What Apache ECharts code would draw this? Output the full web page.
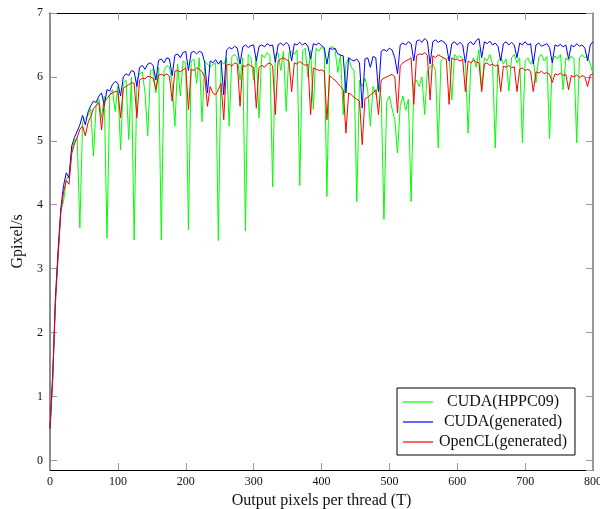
<!DOCTYPE html>
<html>
<head>
<meta charset="utf-8">
<script src="https://cdn.jsdelivr.net/npm/echarts@6/dist/echarts.min.js"></script>
<style>
  html, body { margin: 0; padding: 0; background: #fff; }
  #chart { width: 600px; height: 509px; }
</style>
</head>
<body>
<div id="chart"></div>
<script>
// output pixels per thread (T)
var outputPixels = [
  0, 4, 8, 12, 16, 20, 24, 28, 32, 36,
  40, 44, 48, 52, 56, 60, 64, 68, 72, 76,
  80, 84, 88, 92, 96, 100, 104, 108, 112, 116,
  120, 124, 128, 132, 136, 140, 144, 148, 152, 156,
  160, 164, 168, 172, 176, 180, 184, 188, 192, 196,
  200, 204, 208, 212, 216, 220, 224, 228, 232, 236,
  240, 244, 248, 252, 256, 260, 264, 268, 272, 276,
  280, 284, 288, 292, 296, 300, 304, 308, 312, 316,
  320, 324, 328, 332, 336, 340, 344, 348, 352, 356,
  360, 364, 368, 372, 376, 380, 384, 388, 392, 396,
  400, 404, 408, 412, 416, 420, 424, 428, 432, 436,
  440, 444, 448, 452, 456, 460, 464, 468, 472, 476,
  480, 484, 488, 492, 496, 500, 504, 508, 512, 516,
  520, 524, 528, 532, 536, 540, 544, 548, 552, 556,
  560, 564, 568, 572, 576, 580, 584, 588, 592, 596,
  600, 604, 608, 612, 616, 620, 624, 628, 632, 636,
  640, 644, 648, 652, 656, 660, 664, 668, 672, 676,
  680, 684, 688, 692, 696, 700, 704, 708, 712, 716,
  720, 724, 728, 732, 736, 740, 744, 748, 752, 756,
  760, 764, 768, 772, 776, 780, 784, 788, 792, 796,
  800
]

// Gpixel/s
var cudaHppc09 = [
  0.5, 1.3, 2.5, 3.25, 3.92, 4.05, 4.4, 4.45, 4.85, 5.0,
  5.05, 3.64, 5.3, 5.35, 5.4, 5.5, 4.76, 5.55, 5.65, 5.36,
  5.7, 3.48, 5.72, 5.8, 5.46, 5.85, 4.86, 5.9, 5.95, 5.02,
  6.0, 3.45, 5.95, 6.05, 6.08, 5.75, 5.08, 6.1, 6.12, 5.75,
  6.15, 3.45, 6.1, 6.18, 6.15, 5.9, 5.23, 6.2, 5.7, 6.25,
  6.22, 3.61, 6.25, 6.28, 5.9, 6.3, 5.3, 6.25, 6.2, 6.15,
  6.2, 6.22, 3.44, 6.25, 6.2, 6.3, 5.23, 6.32, 6.35, 6.3,
  5.95, 6.3, 3.59, 6.35, 6.3, 5.95, 6.32, 5.36, 6.35, 6.3,
  6.38, 6.33, 4.28, 6.35, 6.38, 6.1, 6.4, 5.46, 6.38, 6.4,
  6.35, 6.42, 4.3, 6.4, 6.45, 6.0, 6.42, 5.49, 6.45, 6.4,
  6.47, 6.43, 4.13, 6.45, 6.48, 6.42, 6.07, 6.35, 5.41, 6.2,
  6.3, 6.15, 6.1, 4.05, 5.95, 5.85, 5.98, 5.8, 5.23, 5.85,
  5.72, 5.9, 5.68, 3.77, 5.6, 5.7, 5.5, 5.33, 4.81, 5.55,
  5.7, 5.48, 5.65, 4.05, 5.9, 5.95, 5.85, 6.0, 5.41, 6.1,
  6.15, 6.2, 6.1, 4.89, 6.25, 6.3, 6.27, 6.32, 5.64, 6.35,
  6.3, 6.33, 6.28, 6.25, 5.12, 6.2, 6.3, 6.15, 6.43, 5.8,
  6.3, 6.25, 6.35, 6.2, 4.89, 6.25, 6.3, 6.2, 6.28, 5.78,
  6.3, 6.35, 6.22, 6.3, 4.97, 6.25, 6.3, 6.2, 6.27, 5.91,
  6.3, 6.35, 6.25, 6.32, 5.03, 6.25, 6.33, 6.28, 6.35, 5.8,
  6.3, 6.25, 6.33, 6.28, 4.97, 6.3, 6.35, 6.3, 6.33, 6.2,
  6.05
]

var cudaGenerated = [
  0.5, 1.35, 2.55, 3.3, 3.95, 4.3, 4.5, 4.42, 4.92, 5.05,
  5.15, 5.25, 5.4, 5.25, 5.45, 5.55, 5.62, 5.6, 5.7, 5.75,
  5.55, 5.8, 5.78, 5.88, 5.93, 5.9, 5.7, 6.0, 6.05, 6.02,
  6.1, 6.08, 5.85, 6.15, 6.18, 6.12, 6.2, 6.22, 6.18, 5.95,
  6.26, 6.28, 6.22, 6.3, 6.28, 6.02, 6.34, 6.36, 6.3, 6.38,
  6.4, 6.1, 6.38, 6.4, 6.36, 6.4, 6.38, 6.22, 5.75, 6.25,
  6.22, 6.27, 6.2, 6.26, 5.72, 6.42, 6.46, 6.44, 6.48, 6.45,
  6.2, 6.47, 6.5, 6.46, 6.49, 6.5, 6.25, 6.48, 6.5, 6.47,
  6.52, 6.49, 6.5, 6.23, 6.5, 6.53, 6.49, 6.54, 6.5, 6.25,
  6.52, 6.5, 6.54, 6.5, 6.53, 6.48, 6.28, 6.52, 6.5, 6.53,
  6.49, 6.46, 6.2, 6.45, 6.43, 6.45, 6.36, 6.34, 6.33, 5.75,
  6.3, 6.27, 6.25, 6.28, 6.22, 5.51, 6.28, 6.3, 6.15, 6.32,
  6.3, 5.77, 6.4, 6.43, 6.4, 6.45, 6.42, 6.3, 6.05, 6.5,
  6.53, 6.5, 6.55, 6.52, 6.25, 6.56, 6.58, 6.54, 6.6, 6.56,
  6.2, 6.55, 6.58, 6.54, 6.57, 6.55, 6.5, 6.25, 6.52, 6.55,
  6.5, 6.54, 6.5, 6.22, 6.52, 6.55, 6.5, 6.57, 6.6, 6.3,
  6.55, 6.52, 6.56, 6.5, 6.53, 6.48, 6.25, 6.52, 6.55, 6.5,
  6.54, 6.5, 6.3, 6.53, 6.5, 6.55, 6.5, 6.52, 6.2, 6.5,
  6.53, 6.48, 6.5, 6.52, 6.46, 6.22, 6.5, 6.48, 6.51, 6.47,
  6.5, 6.28, 6.5, 6.47, 6.52, 6.48, 6.5, 6.45, 6.25, 6.5,
  6.55
]

var openclGenerated = [
  0.5, 1.25, 2.45, 3.2, 3.88, 4.2, 4.38, 4.32, 4.8, 4.95,
  5.05, 5.18, 5.23, 5.08, 5.28, 5.38, 5.5, 5.55, 5.6, 5.17,
  5.62, 5.66, 5.72, 5.75, 5.77, 5.78, 5.36, 5.82, 5.85, 5.88,
  5.91, 5.9, 5.36, 5.95, 5.98, 5.97, 6.01, 6.0, 5.98, 5.8,
  6.03, 6.04, 6.02, 6.05, 6.01, 5.62, 6.09, 6.1, 6.08, 6.11,
  6.14, 5.49, 6.12, 6.1, 6.14, 6.12, 6.08, 6.0, 5.54, 5.85,
  5.75, 5.72, 5.8, 5.9, 5.33, 6.18, 6.2, 6.17, 6.22, 6.2,
  5.54, 6.18, 6.16, 6.2, 6.17, 6.15, 5.51, 6.15, 6.18, 6.15,
  6.2, 6.22, 6.17, 5.41, 6.25, 6.28, 6.3, 6.27, 6.25, 5.77,
  6.22, 6.2, 6.24, 6.21, 6.18, 6.2, 5.41, 6.14, 6.12, 6.1,
  6.11, 6.09, 5.33, 6.02, 5.98, 5.95, 5.9, 5.85, 5.8, 5.12,
  5.75, 5.72, 5.68, 5.65, 5.62, 4.94, 5.66, 5.68, 5.72, 5.75,
  5.8, 5.41, 5.95, 5.98, 6.0, 6.02, 6.04, 6.0, 5.44, 6.18,
  6.22, 6.25, 6.27, 6.3, 5.57, 6.33, 6.36, 6.35, 6.38, 6.34,
  5.64, 6.33, 6.3, 6.35, 6.32, 6.3, 6.27, 5.57, 6.3, 6.27,
  6.28, 6.25, 6.27, 5.77, 6.25, 6.22, 6.26, 6.23, 6.22, 5.77,
  6.2, 6.22, 6.18, 6.2, 6.17, 6.19, 5.77, 6.17, 6.15, 6.18,
  6.14, 6.16, 5.77, 6.12, 6.14, 6.1, 6.12, 6.09, 5.77, 6.08,
  6.06, 6.09, 6.05, 6.07, 6.04, 5.91, 6.05, 6.03, 6.06, 6.02,
  6.04, 5.8, 6.02, 6.0, 6.03, 5.99, 6.02, 6.0, 5.85, 6.03,
  6.05
]

var seriesNames = ['CUDA(HPPC09)', 'CUDA(generated)', 'OpenCL(generated)']
var seriesColors = ['#00ff00', '#0000ff', '#ff0000']

function pairs(ys) {
  var out = []
  for (var i = 0; i < ys.length; i++) {
    out.push([outputPixels[i], ys[i]])
  }
  return out
}

var serif = '"Liberation Serif", "DejaVu Serif", serif'
var tickStyle = { show: true, inside: true, length: 7, lineStyle: { color: '#999', width: 1 } }

var chart = echarts.init(document.getElementById('chart'), null, { renderer: 'canvas' })
chart.setOption({
  animation: false,
  backgroundColor: '#fff',
  grid: { left: 50, right: 7, top: 13, bottom: 39, containLabel: false, outerBoundsMode: 'none' },
  legend: {
    data: seriesNames,
    orient: 'vertical',
    left: 397,
    top: 388,
    icon: 'rect',
    itemWidth: 30,
    itemHeight: 1.2,
    itemGap: 4,
    padding: [6, 8, 5, 6],
    borderColor: '#000',
    borderWidth: 1,
    backgroundColor: '#fff',
    formatter: function (name) {
      return '{t|' + name + '}'
    },
    textStyle: {
      rich: {
        t: { width: 130, height: 16, align: 'center', fontFamily: serif, fontSize: 16, color: '#111' }
      }
    }
  },
  xAxis: [
    {
      type: 'value',
      position: 'bottom',
      min: 0,
      max: 800,
      interval: 100,
      name: 'Output pixels per thread (T)',
      nameLocation: 'middle',
      nameGap: 22,
      nameTextStyle: { fontFamily: serif, fontSize: 16, color: '#111' },
      axisLine: { onZero: false, lineStyle: { color: '#000', width: 1 } },
      axisTick: tickStyle,
      axisLabel: { fontFamily: serif, fontSize: 12, color: '#111', margin: 6 },
      splitLine: { show: false }
    },
    {
      type: 'value',
      position: 'top',
      min: 0,
      max: 800,
      interval: 100,
      axisLine: { onZero: false, lineStyle: { color: '#000', width: 1 } },
      axisTick: tickStyle,
      axisLabel: { show: false },
      splitLine: { show: false }
    }
  ],
  yAxis: [
    {
      type: 'value',
      position: 'left',
      min: -0.15,
      max: 7,
      splitNumber: 7,
      name: 'Gpixel/s',
      nameLocation: 'middle',
      nameGap: 24,
      nameTextStyle: { fontFamily: serif, fontSize: 16, color: '#111' },
      axisLine: { show: true, onZero: false, lineStyle: { color: '#666', width: 1.5 } },
      axisTick: tickStyle,
      axisLabel: { fontFamily: serif, fontSize: 12, color: '#111', margin: 7, showMinLabel: false },
      splitLine: { show: false }
    },
    {
      type: 'value',
      position: 'right',
      min: -0.15,
      max: 7,
      splitNumber: 7,
      axisLine: { show: true, onZero: false, lineStyle: { color: '#777', width: 1.5 } },
      axisTick: tickStyle,
      axisLabel: { show: false },
      splitLine: { show: false }
    }
  ],
  series: [
    {
      name: seriesNames[0],
      type: 'line',
      data: pairs(cudaHppc09),
      symbol: 'none',
      color: seriesColors[0],
      lineStyle: { width: 1, color: seriesColors[0] }
    },
    {
      name: seriesNames[1],
      type: 'line',
      data: pairs(cudaGenerated),
      symbol: 'none',
      color: seriesColors[1],
      lineStyle: { width: 1, color: seriesColors[1] }
    },
    {
      name: seriesNames[2],
      type: 'line',
      data: pairs(openclGenerated),
      symbol: 'none',
      color: seriesColors[2],
      lineStyle: { width: 1, color: seriesColors[2] }
    }
  ]
})
</script>
</body>
</html>
